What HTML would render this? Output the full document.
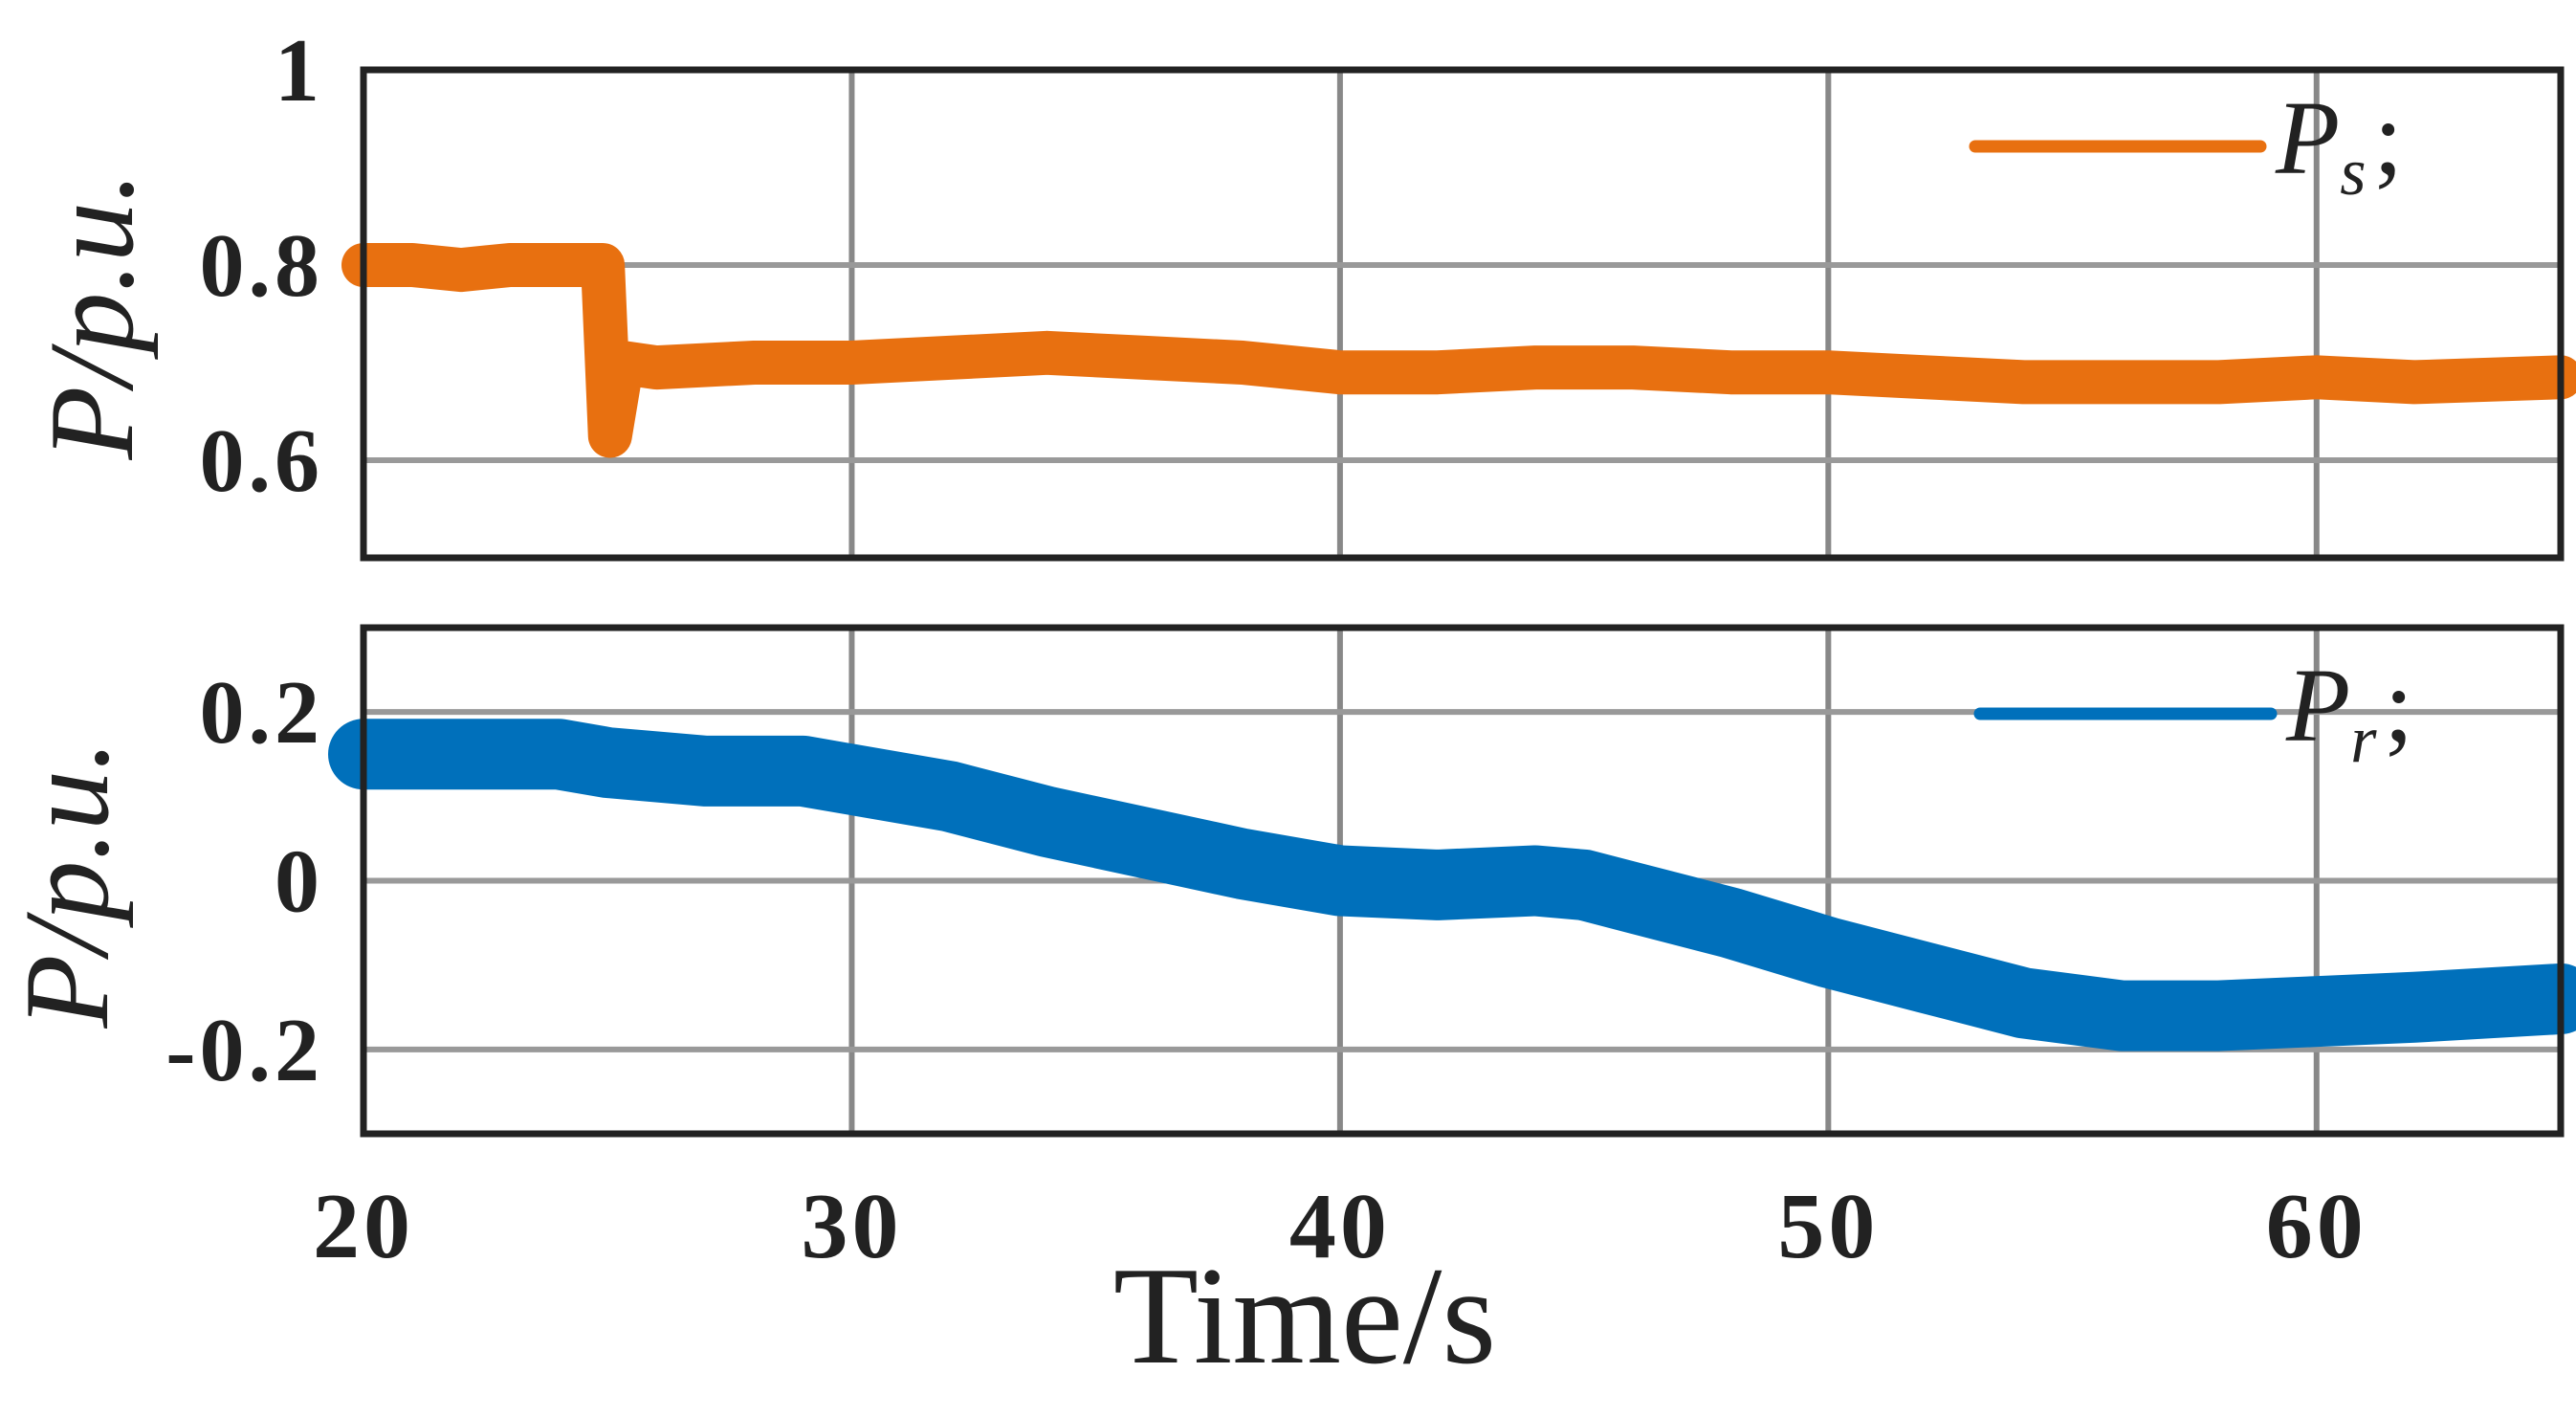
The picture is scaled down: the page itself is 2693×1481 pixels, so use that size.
<!DOCTYPE html>
<html><head><meta charset="utf-8"><style>
html,body{margin:0;padding:0;background:#fff;}
svg{display:block;}
text{font-family:"Liberation Serif",serif;fill:#222;}
</style></head><body>
<svg id="chart" width="2693" height="1481" viewBox="0 0 2693 1481" xmlns="http://www.w3.org/2000/svg"></svg>
<script>
const xTicks=[20,30,40,50,60];
const topYTicks=[0.6,0.8,1];
const topYLabels=["0.6","0.8","1"];
const botYTicks=[-0.2,0,0.2];
const botYLabels=["-0.2","0","0.2"];
const psTime=[20,21,22,23,24,24.9,25.05,25.3,26,28,30,32,34,36,38,40,42,44,46,48,50,52,54,56,58,60,62,65];
const psValue=[0.80,0.80,0.795,0.80,0.80,0.80,0.625,0.70,0.695,0.70,0.70,0.705,0.71,0.705,0.70,0.69,0.69,0.695,0.695,0.69,0.69,0.685,0.68,0.68,0.68,0.685,0.68,0.685];
const prTime=[20,22,24,25,27,29,30,32,34,36,38,40,42,44,45,46,48,50,52,54,56,58,60,62,65];
const prValue=[0.15,0.15,0.15,0.14,0.13,0.13,0.12,0.10,0.07,0.045,0.02,0.0,-0.005,0.0,-0.005,-0.02,-0.05,-0.085,-0.115,-0.145,-0.16,-0.16,-0.155,-0.15,-0.14];

const NS="http://www.w3.org/2000/svg";
const svg=document.getElementById('chart');
const X0=380,X1=2677;
const xs=t=>X0+(t-20)/(65-20)*(X1-X0);
const panels=[
 {name:'top',y0:73,y1:583,min:0.5,max:1.0,ticks:topYTicks,labels:topYLabels,t:psTime,v:psValue,color:'#e87010',sw:46,lab:'s',lx:2065,lx2:2363,ly:153,labY:330,labX:96},
 {name:'bottom',y0:656,y1:1185,min:-0.3,max:0.3,ticks:botYTicks,labels:botYLabels,t:prTime,v:prValue,color:'#0070bb',sw:74,lab:'r',lx:2070,lx2:2374,ly:746,labY:924,labX:70}
];
function el(tag,attrs,parent){const e=document.createElementNS(NS,tag);for(const k in attrs)e.setAttribute(k,attrs[k]);(parent||svg).appendChild(e);return e;}
panels.forEach(p=>{
 const ys=v=>p.y1-(v-p.min)/(p.max-p.min)*(p.y1-p.y0);
 const g=el('g',{});
 
 
 xTicks.slice(1).forEach(t=>{
  const l=el('line',{x1:xs(t),x2:xs(t),y1:p.y0,y2:p.y1,stroke:'#888','stroke-width':6},g);
  
  
 });
 p.ticks.forEach((v,i)=>{
  const l=el('line',{x1:X0,x2:X1,y1:ys(v),y2:ys(v),stroke:'#999','stroke-width':6},g);
  
  
  const tx=el('text',{x:338,y:ys(v)+32,'font-size':94,'text-anchor':'end','font-weight':'bold','letter-spacing':4},g);
  tx.textContent=p.labels[i];
  
  
 });
 const pts=p.t.map((t,i)=>xs(t)+','+ys(p.v[i])).join(' ');
 const line=el('polyline',{points:pts,fill:'none',stroke:p.color,'stroke-width':p.sw,'stroke-linejoin':'round','stroke-linecap':'round'},g);
 
 
 const fr=el('rect',{x:X0,y:p.y0,width:X1-X0,height:p.y1-p.y0,fill:'none',stroke:'#222','stroke-width':7},g);
 
 
 const lg=el('line',{x1:p.lx,x2:p.lx2,y1:p.ly,y2:p.ly,stroke:p.color,'stroke-width':13,'stroke-linecap':'round'},g);
 
 
 const lt=el('text',{x:p.lx2+16,y:p.ly+28,'font-size':110,'font-style':'italic'},g);
 lt.innerHTML='P<tspan font-size="70" dy="22">'+p.lab+'</tspan><tspan dy="-22" dx="8" font-style="normal">;</tspan>';
 
 
 const yl=el('text',{x:0,y:0,'font-size':126,'font-style':'italic','text-anchor':'middle',transform:'translate('+(p.labX+42)+','+p.labY+') rotate(-90)'},g);
 yl.textContent='P/p.u.';
 
 
});
xTicks.forEach(t=>{
 const tx=el('text',{x:xs(t),y:1314,'font-size':98,'text-anchor':'middle','font-weight':'bold','letter-spacing':4});
 tx.textContent=String(t);
 
 
});
const xt=el('text',{x:1364,y:1424,'font-size':146,'text-anchor':'middle'});
xt.textContent='Time/s';


</script>
</body></html>
